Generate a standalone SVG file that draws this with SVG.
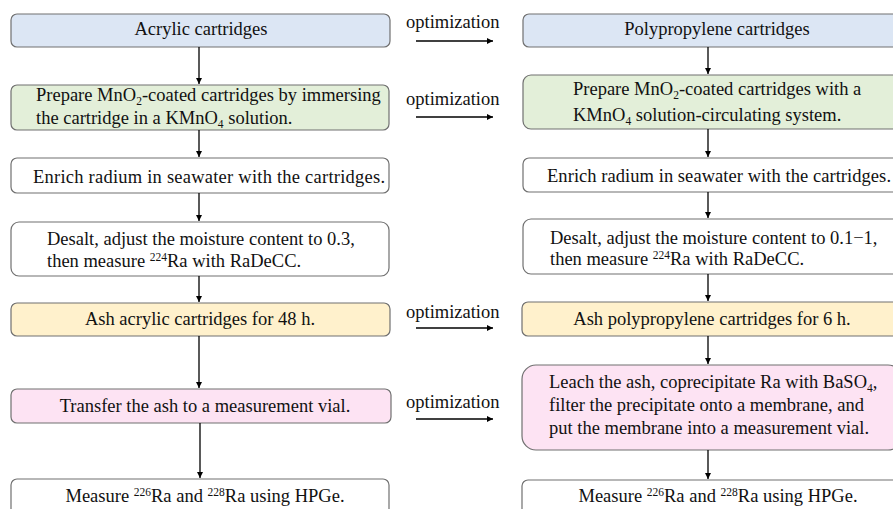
<svg xmlns="http://www.w3.org/2000/svg" width="893" height="509" viewBox="0 0 893 509">
<defs>
<marker id="ah" markerWidth="8" markerHeight="8" refX="6" refY="3" orient="auto" markerUnits="userSpaceOnUse">
<path d="M0,0 L6,3 L0,6 Z" fill="#000"/>
</marker>
<style>
.box{stroke:#707070;stroke-width:1.2}
.blue{fill:#dce6f4}
.green{fill:#e3efd9}
.white{fill:#ffffff}
.yellow{fill:#fff1cc}
.pink{fill:#fde3f3}
text{font-family:"Liberation Serif","Times New Roman",serif;font-size:18.5px;fill:#111}
.c{text-anchor:middle}
.s{font-size:11.5px}
.con{stroke:#000;stroke-width:1.3;fill:none}
</style>
</defs>
<rect width="893" height="509" fill="#fff"/>

<g id="L1"><rect class="box blue" x="11" y="14" width="379" height="33" rx="6"/><text class="c" x="201" y="35">Acrylic cartridges</text></g>
<g id="L2"><rect class="box green" x="11" y="85" width="378" height="45" rx="6"/>
<text x="36" y="101">Prepare MnO<tspan class="s" dy="4">2</tspan><tspan dy="-4">-coated cartridges by immersing</tspan></text>
<text x="36" y="124">the cartridge in a KMnO<tspan class="s" dy="4">4</tspan><tspan dy="-4"> solution.</tspan></text></g>
<g id="L3"><rect class="box white" x="11" y="158" width="378" height="35" rx="6"/><text x="33" y="183" textLength="352" lengthAdjust="spacing">Enrich radium in seawater with the cartridges.</text></g>
<g id="L4"><rect class="box white" x="11" y="222" width="378" height="54" rx="8"/>
<text x="47" y="245">Desalt, adjust the moisture content to 0.3,</text>
<text x="47" y="267">then measure <tspan class="s" dy="-6">224</tspan><tspan dy="6">Ra with RaDeCC.</tspan></text></g>
<g id="L5"><rect class="box yellow" x="11" y="303" width="379" height="33" rx="6"/><text class="c" x="200" y="325">Ash acrylic cartridges for 48 h.</text></g>
<g id="L6"><rect class="box pink" x="11" y="389" width="380" height="34" rx="6"/><text class="c" x="205" y="412">Transfer the ash to a measurement vial.</text></g>
<g id="L7"><rect class="box white" x="11" y="479" width="378" height="40" rx="6"/>
<text class="c" x="205" y="502">Measure <tspan class="s" dy="-6">226</tspan><tspan dy="6">Ra and </tspan><tspan class="s" dy="-6">228</tspan><tspan dy="6">Ra using HPGe.</tspan></text></g>

<g id="R1"><rect class="box blue" x="523" y="14" width="380" height="33" rx="6"/><text class="c" x="717" y="35">Polypropylene cartridges</text></g>
<g id="R2"><rect class="box green" x="523" y="75" width="380" height="54" rx="8"/>
<text x="573" y="95">Prepare MnO<tspan class="s" dy="4">2</tspan><tspan dy="-4">-coated cartridges with a</tspan></text>
<text x="573" y="121">KMnO<tspan class="s" dy="4">4</tspan><tspan dy="-4"> solution-circulating system.</tspan></text></g>
<g id="R3"><rect class="box white" x="523" y="158" width="380" height="34" rx="6"/><text x="547" y="182" textLength="344" lengthAdjust="spacing">Enrich radium in seawater with the cartridges.</text></g>
<g id="R4"><rect class="box white" x="523" y="219" width="380" height="55" rx="8"/>
<text x="550" y="244">Desalt, adjust the moisture content to 0.1−1,</text>
<text x="550" y="265">then measure <tspan class="s" dy="-6">224</tspan><tspan dy="6">Ra with RaDeCC.</tspan></text></g>
<g id="R5"><rect class="box yellow" x="522" y="302" width="380" height="34" rx="6"/><text class="c" x="712" y="325">Ash polypropylene cartridges for 6 h.</text></g>
<g id="R6"><rect class="box pink" x="522" y="365" width="380" height="85" rx="14"/>
<text x="549" y="388">Leach the ash, coprecipitate Ra with BaSO<tspan class="s" dy="4">4</tspan><tspan dy="-4">,</tspan></text>
<text x="549" y="411">filter the precipitate onto a membrane, and</text>
<text x="549" y="434">put the membrane into a measurement vial.</text></g>
<g id="R7"><rect class="box white" x="522" y="480" width="380" height="40" rx="6"/>
<text class="c" x="718" y="502">Measure <tspan class="s" dy="-6">226</tspan><tspan dy="6">Ra and </tspan><tspan class="s" dy="-6">228</tspan><tspan dy="6">Ra using HPGe.</tspan></text></g>

<g id="labels">
<text x="406" y="28">optimization</text>
<text x="406" y="105">optimization</text>
<text x="406" y="318">optimization</text>
<text x="406" y="408">optimization</text>
</g>

<g id="connectors">
<line class="con" x1="199" y1="47" x2="199" y2="84" marker-end="url(#ah)"/>
<line class="con" x1="199" y1="130" x2="199" y2="157" marker-end="url(#ah)"/>
<line class="con" x1="199" y1="193" x2="199" y2="221" marker-end="url(#ah)"/>
<line class="con" x1="199" y1="276" x2="199" y2="302" marker-end="url(#ah)"/>
<line class="con" x1="199" y1="336" x2="199" y2="388" marker-end="url(#ah)"/>
<line class="con" x1="200" y1="423" x2="200" y2="478" marker-end="url(#ah)"/>
<line class="con" x1="708" y1="47" x2="708" y2="74" marker-end="url(#ah)"/>
<line class="con" x1="708" y1="129" x2="708" y2="157" marker-end="url(#ah)"/>
<line class="con" x1="708" y1="192" x2="708" y2="218" marker-end="url(#ah)"/>
<line class="con" x1="708" y1="274" x2="708" y2="301" marker-end="url(#ah)"/>
<line class="con" x1="708" y1="336" x2="708" y2="364" marker-end="url(#ah)"/>
<line class="con" x1="708" y1="450" x2="708" y2="479" marker-end="url(#ah)"/>
<line class="con" x1="416" y1="41" x2="493" y2="41" marker-end="url(#ah)"/>
<line class="con" x1="416" y1="117" x2="493" y2="117" marker-end="url(#ah)"/>
<line class="con" x1="416" y1="328" x2="493" y2="328" marker-end="url(#ah)"/>
<line class="con" x1="416" y1="419" x2="493" y2="419" marker-end="url(#ah)"/>
</g>
</svg>
